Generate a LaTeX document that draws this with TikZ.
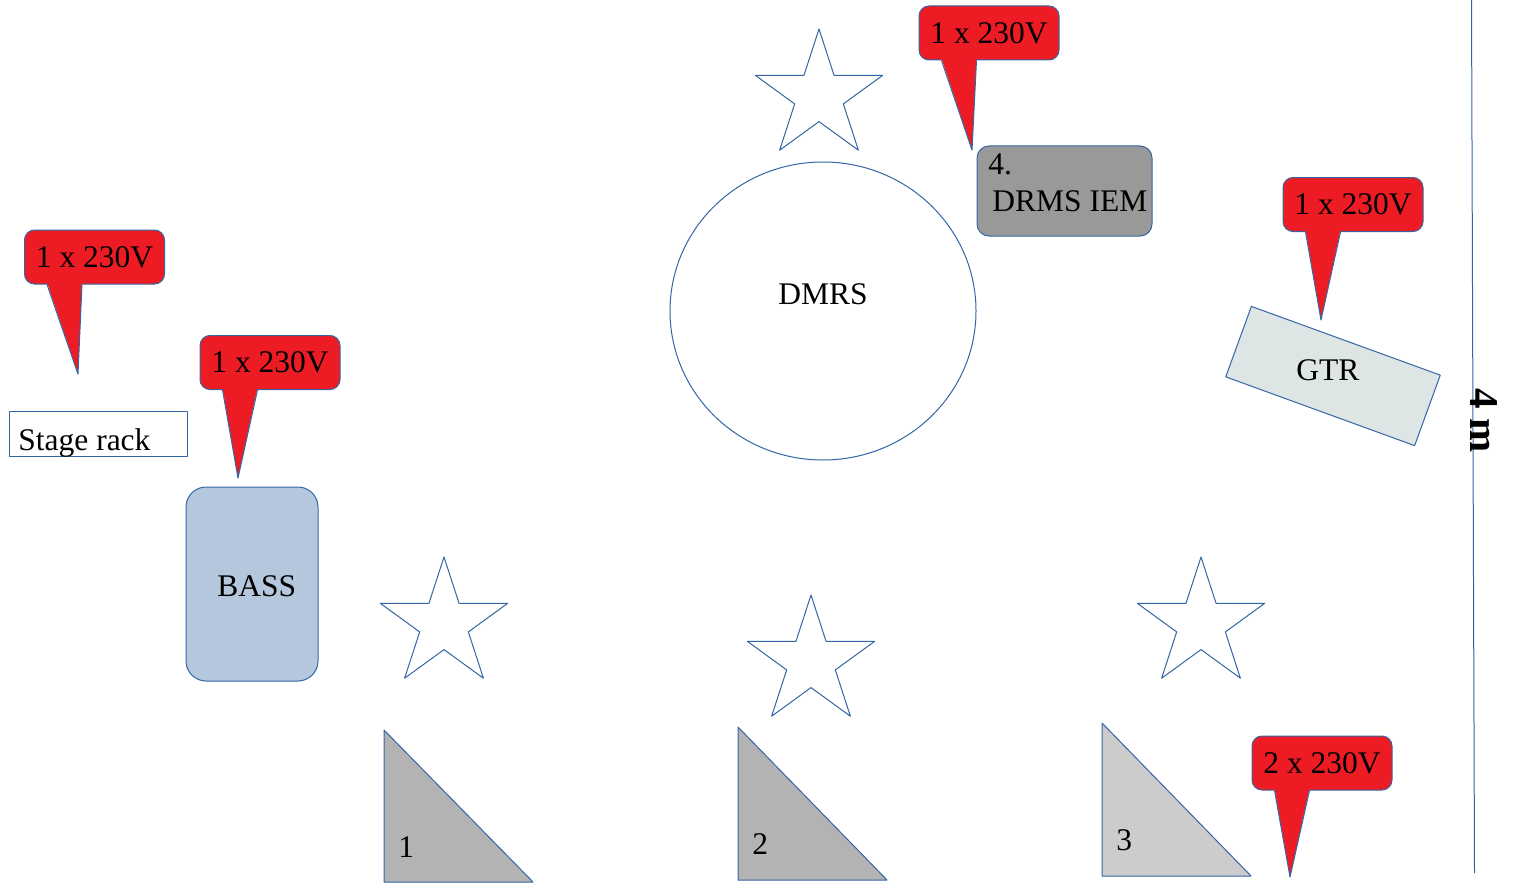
\documentclass[tikz,border=0pt]{standalone}
\usepackage{fontspec}
\setmainfont{Liberation Serif}
\usetikzlibrary{shapes.geometric}
\definecolor{lineblue}{HTML}{3465A4}
\definecolor{plugred}{HTML}{ED1C24}
\definecolor{bassblue}{HTML}{B4C7DC}
\definecolor{gtrgrey}{HTML}{DEE6E5}
\definecolor{iemgrey}{HTML}{999999}
\definecolor{wedgegrey}{HTML}{B3B3B3}
\definecolor{wedgelight}{HTML}{CCCCCC}
\begin{document}
\begin{tikzpicture}[x=0.5pt, y=-0.5pt, line join=round,
    font=\fontsize{15.75}{19}\selectfont,
    outline/.style={draw=lineblue, line width=0.5pt},
    lbl/.style={inner sep=0pt},
    spot/.style={outline, star, star points=5, star point ratio=2.618,
      minimum size=67pt, inner sep=0pt},
    plug/.style={outline, fill=plugred, rounded corners=5pt,
      minimum width=70pt, minimum height=27pt, inner sep=0pt},
    wedge/.style={outline, fill=wedgegrey}]
  \useasboundingbox (0,0) rectangle (1515,883);
  % stars
  \node[spot] (s0) at (819,96) {};
  \node[spot] (s1) at (444,624) {};
  \node[spot] (s2) at (811,662) {};
  \node[spot] (s3) at (1201,624) {};
  % drums
  \node[outline, ellipse, minimum width=153pt, minimum height=149pt,
    inner sep=0pt] (dmrs) at (823,311) {};
  \node[lbl, anchor=base west] (dmrslab) at (778,304) {DMRS};
  \node[outline, fill=iemgrey, rounded corners=6pt, minimum width=87.5pt,
    minimum height=45pt] (iem) at (1064.5,191) {};
  \node[lbl, anchor=base west] (iemno) at (988,174) {4.};
  \node[lbl, anchor=base west] (iemname) at (992,211) {DRMS IEM};
  % rack, bass, guitar
  \node[outline, minimum width=89pt, minimum height=22.5pt] (rack) at (98,433.5) {};
  \node[lbl, anchor=base west] (racklab) at (18,450) {Stage rack};
  \node[outline, fill=bassblue, rounded corners=10pt, minimum width=66pt,
    minimum height=97pt] (bass) at (252,584) {};
  \node[lbl, anchor=base west] (basslab) at (217,596) {BASS};
  \node[outline, fill=gtrgrey, minimum width=100.5pt, minimum height=37.5pt,
    rotate=-20] (gtr) at (1333,376) {};
  \node[lbl, anchor=base west] (gtrlab) at (1296,380) {GTR};
  % wedges
  \draw[wedge] (384,730) -- (384,882) -- (533,882) -- cycle;
  \draw[wedge] (738,727) -- (738,880) -- (887,880) -- cycle;
  \draw[wedge, fill=wedgelight] (1102,723) -- (1102,876) -- (1251,876) -- cycle;
  \node[lbl, anchor=base west] (w1) at (398,857) {1};
  \node[lbl, anchor=base west] (w2) at (752,854) {2};
  \node[lbl, anchor=base west] (w3) at (1116,850) {3};
  % power
  \node[plug] (p1) at (989,33) {1 x 230V};
  \coordinate (t1) at (972,150);
  \fill[plugred] ([xshift=11.5pt,yshift=1pt]p1.south west) -- (t1)
    -- ([xshift=29pt,yshift=1pt]p1.south west) -- cycle;
  \draw[outline] ([xshift=11.5pt]p1.south west) -- (t1) -- ([xshift=29pt]p1.south west);
  \node[plug] (p2) at (1353,204.5) {1 x 230V};
  \coordinate (t2) at (1321,320);
  \fill[plugred] ([xshift=11.5pt,yshift=1pt]p2.south west) -- (t2)
    -- ([xshift=29pt,yshift=1pt]p2.south west) -- cycle;
  \draw[outline] ([xshift=11.5pt]p2.south west) -- (t2) -- ([xshift=29pt]p2.south west);
  \node[plug] (p3) at (94.5,257) {1 x 230V};
  \coordinate (t3) at (78,374);
  \fill[plugred] ([xshift=11.5pt,yshift=1pt]p3.south west) -- (t3)
    -- ([xshift=29pt,yshift=1pt]p3.south west) -- cycle;
  \draw[outline] ([xshift=11.5pt]p3.south west) -- (t3) -- ([xshift=29pt]p3.south west);
  \node[plug] (p4) at (270,362.5) {1 x 230V};
  \coordinate (t4) at (238,478);
  \fill[plugred] ([xshift=11.5pt,yshift=1pt]p4.south west) -- (t4)
    -- ([xshift=29pt,yshift=1pt]p4.south west) -- cycle;
  \draw[outline] ([xshift=11.5pt]p4.south west) -- (t4) -- ([xshift=29pt]p4.south west);
  \node[plug] (p5) at (1322,763) {2 x 230V};
  \coordinate (t5) at (1290,877);
  \fill[plugred] ([xshift=11.5pt,yshift=1pt]p5.south west) -- (t5)
    -- ([xshift=29pt,yshift=1pt]p5.south west) -- cycle;
  \draw[outline] ([xshift=11.5pt]p5.south west) -- (t5) -- ([xshift=29pt]p5.south west);
  % stage depth
  \coordinate (ruletop) at (1471.5,0);
  \coordinate (rulebot) at (1474.5,873);
  \draw[outline] (ruletop) -- (rulebot);
  \node[lbl, rotate=-90, font=\bfseries\fontsize{20.5}{24}\selectfont] (depth)
    at (1484,420.5) {4 m};
\end{tikzpicture}
\end{document}
